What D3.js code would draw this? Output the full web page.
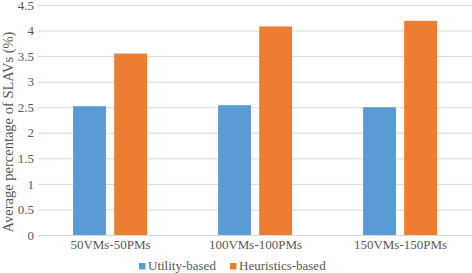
<!DOCTYPE html>
<html>
<head>
<meta charset="utf-8">
<script src="https://cdn.jsdelivr.net/npm/d3@7"></script>
</head>
<body style="margin:0; background:#fff">
<svg></svg>
<script>
const categories = ['50VMs-50PMs', '100VMs-100PMs', '150VMs-150PMs'];
const seriesNames = ['Utility-based', 'Heuristics-based'];
const utilityValues = [2.52, 2.54, 2.50];
const heuristicsValues = [3.55, 4.08, 4.19];
const yTicks = [0, 0.5, 1, 1.5, 2, 2.5, 3, 3.5, 4, 4.5];
const colors = ['#5B9BD5', '#ED7D31'];

const width = 472;
const height = 273;
const margin = { top: 5, right: 0, bottom: 38, left: 38 };
const innerWidth = width - margin.left - margin.right;
const innerHeight = height - margin.top - margin.bottom;
const serif = '"Liberation Serif"';
const textColor = '#595959';

const svg = d3.select('svg')
  .attr('width', width)
  .attr('height', height);

const g = svg.append('g')
  .attr('transform', `translate(${margin.left},${margin.top})`);

const yScale = d3.scaleLinear()
  .domain([0, 4.5])
  .range([innerHeight, 0]);

const x0 = d3.scaleBand()
  .domain(categories)
  .range([0, innerWidth + 1]);

const bw = x0.bandwidth();
const x1 = d3.scaleBand()
  .domain(seriesNames)
  .range([bw * 0.242, bw * 0.752])
  .paddingInner(0.2);

// gridlines + tick labels
const yAxis = d3.axisLeft(yScale)
  .tickValues(yTicks)
  .tickFormat(d3.format('~g'))
  .tickSize(-innerWidth)
  .tickPadding(4);

const yAxisG = g.append('g').call(yAxis);
yAxisG.select('.domain').remove();
yAxisG.selectAll('line').attr('stroke', '#d9d9d9');
yAxisG.selectAll('text')
  .style('font-family', serif)
  .style('font-size', '13px')
  .style('fill', textColor);

// bars
const rows = categories.map((c, i) => ({ cat: c, values: [utilityValues[i], heuristicsValues[i]] }));

const groups = g.selectAll('g.cat').data(rows)
  .enter().append('g')
    .attr('class', 'cat')
    .attr('transform', d => `translate(${x0(d.cat)},0)`);

groups.selectAll('rect')
  .data(d => d.values.map((v, j) => ({ name: seriesNames[j], value: v, j })))
  .enter().append('rect')
    .attr('x', d => x1(d.name))
    .attr('y', d => yScale(d.value))
    .attr('width', x1.bandwidth())
    .attr('height', d => innerHeight - yScale(d.value))
    .attr('fill', d => colors[d.j]);

// x labels
g.selectAll('text.xlabel').data(categories)
  .enter().append('text')
    .attr('class', 'xlabel')
    .attr('x', d => x0(d) + bw / 2)
    .attr('y', innerHeight + 14)
    .attr('text-anchor', 'middle')
    .style('font-family', serif)
    .style('font-size', '13px')
    .style('fill', textColor)
    .text(d => d);

// y axis title
svg.append('text')
  .attr('transform', `translate(13,132) rotate(-90)`)
  .attr('text-anchor', 'middle')
  .style('font-family', serif)
  .style('font-size', '14.5px')
  .style('fill', textColor)
  .text('Average percentage of SLAVs (%)');

// legend
const legendX = [139, 230];
const legend = svg.selectAll('g.legend').data(seriesNames)
  .enter().append('g')
    .attr('class', 'legend')
    .attr('transform', (d, i) => `translate(${legendX[i]},262)`);

legend.append('rect')
  .attr('y', 1)
  .attr('width', 6.5)
  .attr('height', 6.5)
  .attr('fill', (d, i) => colors[i]);

legend.append('text')
  .attr('x', 9)
  .attr('y', 8)
  .style('font-family', serif)
  .style('font-size', '13px')
  .style('fill', textColor)
  .text(d => d);
</script>
</body>
</html>
